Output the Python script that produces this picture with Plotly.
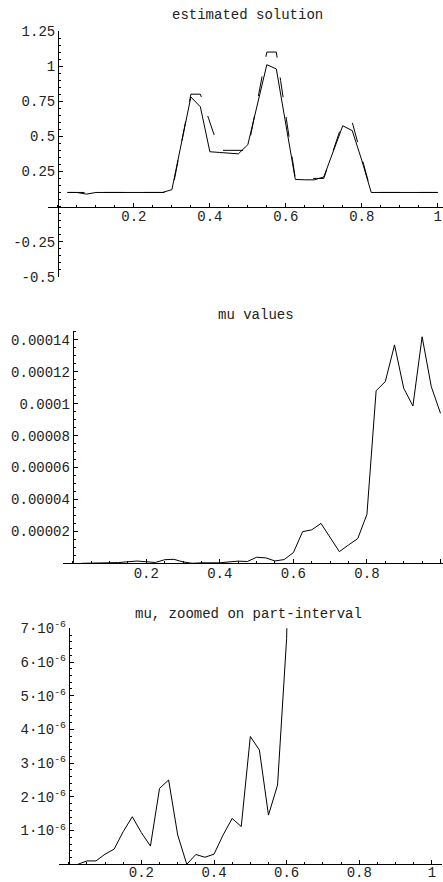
import plotly.graph_objects as go

W, H = 443, 882

# ---------------- data ----------------
x_grid = [round(0.025 * k, 3) for k in range(1, 41)]

estimated = [0.1, 0.1, 0.088, 0.1, 0.1, 0.1, 0.1, 0.1, 0.1, 0.1,
             0.1, 0.12, 0.45, 0.78, 0.71, 0.39, 0.385, 0.38, 0.375, 0.44,
             0.73, 1.01, 0.98, 0.6, 0.193, 0.19, 0.19, 0.21, 0.39, 0.575,
             0.54, 0.33, 0.1, 0.1, 0.1, 0.1, 0.1, 0.1, 0.1, 0.1]

true_solution = [0.1, 0.1, 0.1, 0.1, 0.1, 0.1, 0.1, 0.1, 0.1, 0.1,
                 0.1, 0.1, 0.45, 0.8, 0.8, 0.6, 0.4, 0.4, 0.4, 0.4,
                 0.75, 1.1, 1.1, 0.65, 0.2, 0.2, 0.2, 0.2, 0.4, 0.6,
                 0.6, 0.35, 0.1, 0.1, 0.1, 0.1, 0.1, 0.1, 0.1, 0.1]

mu = [0.0, 0.1e-6, 0.1e-6, 0.3e-6, 0.45e-6, 0.97e-6, 1.41e-6, 0.94e-6, 0.54e-6, 2.25e-6,
      2.5e-6, 0.87e-6, 0.0, 0.29e-6, 0.21e-6, 0.3e-6, 0.87e-6, 1.36e-6, 1.12e-6, 3.79e-6,
      3.39e-6, 1.46e-6, 2.35e-6, 6.7e-6, 1.98e-5, 2.1e-5, 2.5e-5, 1.6e-5, 7.3e-6, 1.15e-5,
      1.55e-5, 3.07e-5, 1.082e-4, 1.139e-4, 1.369e-4, 1.097e-4, 9.86e-5, 1.42e-4, 1.107e-4, 9.4e-5]

x_ticks = [0.2, 0.4, 0.6, 0.8, 1.0]
x_ticktext = ["0.2", "0.4", "0.6", "0.8", "1"]
sol_ticks = [-0.5, -0.25, 0.25, 0.5, 0.75, 1.0, 1.25]
sol_ticktext = ["-0.5", "-0.25", "0.25", "0.5", "0.75", "1", "1.25"]
mu_ticks = [2e-5, 4e-5, 6e-5, 8e-5, 1e-4, 1.2e-4, 1.4e-4]
mu_ticktext = ["0.00002", "0.00004", "0.00006", "0.00008", "0.0001", "0.00012", "0.00014"]
zoom_ticks = [1e-6, 2e-6, 3e-6, 4e-6, 5e-6, 6e-6, 7e-6]
zoom_ticktext = [f"{k}·10<sup>-6</sup>" for k in range(1, 8)]

titles = ["estimated solution", "mu values", "mu, zoomed on part-interval"]

# ---------------- helpers ----------------
FONT = "Liberation Mono, Courier New, monospace"
TXT = "#222222"


def px(v):
    return v / W


def py(v):
    return 1 - v / H


def xaxis_cfg(x0, x1, rng, ypos, minor_dt, standoff):
    return dict(domain=[px(x0), px(x1)], range=rng, anchor="free", position=py(ypos),
                automargin=False, ticklabelstandoff=standoff,
                showline=True, linecolor="black", linewidth=1, showgrid=False, zeroline=False,
                ticks="inside", ticklen=4, tickwidth=1, tickcolor="black",
                tickmode="array", tickvals=x_ticks, ticktext=x_ticktext,
                tickfont=dict(family=FONT, size=14, color=TXT),
                minor=dict(tickmode="linear", tick0=0, dtick=minor_dt, ticks="inside",
                           ticklen=2, tickwidth=1, tickcolor="black", showgrid=False),
                fixedrange=True)


def yaxis_cfg(y_top, y_bot, rng, xpos, vals, texts, minor_dt):
    return dict(domain=[py(y_bot), py(y_top)], range=rng, anchor="free", position=px(xpos),
                automargin=False,
                showline=True, linecolor="black", linewidth=1, showgrid=False, zeroline=False,
                ticks="inside", ticklen=4, tickwidth=1, tickcolor="black",
                tickmode="array", tickvals=vals, ticktext=texts,
                tickfont=dict(family=FONT, size=14, color=TXT),
                minor=dict(tickmode="linear", tick0=0, dtick=minor_dt, ticks="inside",
                           ticklen=2, tickwidth=1, tickcolor="black", showgrid=False),
                fixedrange=True)


fig = go.Figure()

# top chart
fig.add_trace(go.Scatter(x=x_grid, y=true_solution, mode="lines", xaxis="x", yaxis="y",
                         line=dict(color="black", width=1, dash="17px,20px,3px,0px"),
                         hoverinfo="skip"))
fig.add_trace(go.Scatter(x=x_grid, y=estimated, mode="lines", xaxis="x", yaxis="y",
                         line=dict(color="black", width=1), hoverinfo="skip"))
# mu chart
fig.add_trace(go.Scatter(x=x_grid, y=mu, mode="lines", xaxis="x2", yaxis="y2",
                         line=dict(color="black", width=1), hoverinfo="skip"))
# zoomed mu chart
fig.add_trace(go.Scatter(x=x_grid, y=mu, mode="lines", xaxis="x3", yaxis="y3",
                         line=dict(color="black", width=1), hoverinfo="skip"))

fig.update_layout(
    width=W, height=H, margin=dict(l=0, r=0, t=0, b=0, autoexpand=False),
    paper_bgcolor="white", plot_bgcolor="white", showlegend=False,
    xaxis=xaxis_cfg(48, 443, [-0.0263, 1.014], 206.5, 0.05, -3),
    yaxis=yaxis_cfg(31, 276.7, [-0.5, 1.25], 58, sol_ticks, sol_ticktext, 0.05),
    xaxis2=xaxis_cfg(63, 443, [-0.0264, 1.0068], 563.3, 0.05, -3),
    yaxis2=yaxis_cfg(330.7, 563.3, [0, 1.458e-4], 72.7, mu_ticks, mu_ticktext, 5e-6),
    xaxis3=xaxis_cfg(59.3, 441.7, [-0.026, 1.027], 864.3, 0.05, -5),
    yaxis3=yaxis_cfg(628.3, 864.3, [0, 7e-6], 68.7, zoom_ticks, zoom_ticktext, 2e-7),
)

title_pos = [(247.5, 15), (255.8, 315), (248.8, 614.3)]
for t, (cx, cy) in zip(titles, title_pos):
    fig.add_annotation(text=t, x=px(cx), y=py(cy), xref="paper", yref="paper",
                       xanchor="center", yanchor="middle", showarrow=False,
                       font=dict(family=FONT, size=14, color=TXT))

fig.write_html(
    "out.html",
    config={"displayModeBar": False, "staticPlot": True},
    post_script="document.body.style.margin='0';document.body.style.padding='0';"
                "document.body.style.overflow='hidden';",
)
